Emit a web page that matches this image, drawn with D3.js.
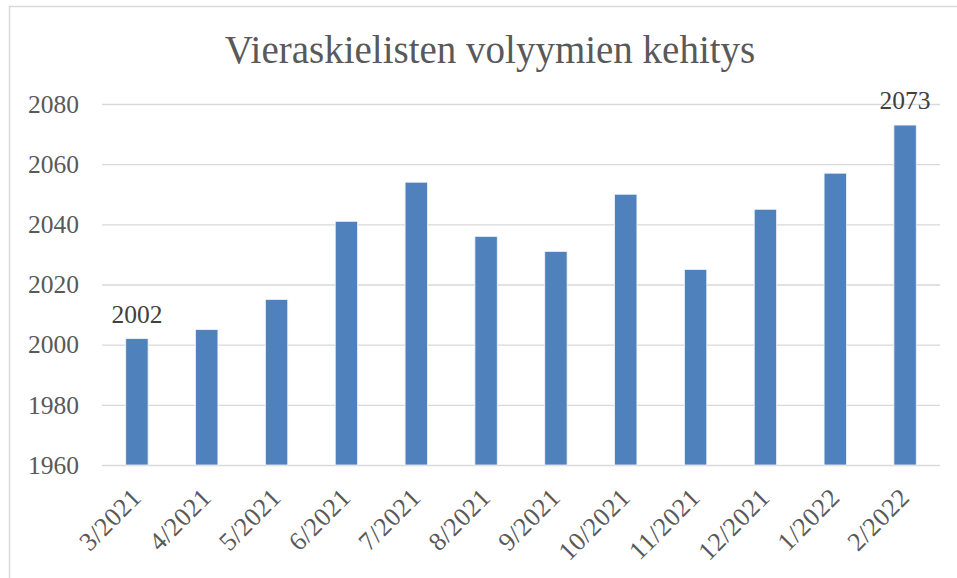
<!DOCTYPE html>
<html>
<head>
<meta charset="utf-8">
<script src="https://cdn.jsdelivr.net/npm/d3@7"></script>
<style>
  html, body { margin: 0; padding: 0; background: #fff; }
  svg { display: block; }
</style>
</head>
<body>
<svg id="chart" width="957" height="578"></svg>
<script>
const months = ["3/2021", "4/2021", "5/2021", "6/2021", "7/2021", "8/2021",
                "9/2021", "10/2021", "11/2021", "12/2021", "1/2022", "2/2022"];
const volumes = [2002, 2005, 2015, 2041, 2054, 2036, 2031, 2050, 2025, 2045, 2057, 2073];
const yTicks = [1960, 1980, 2000, 2020, 2040, 2060, 2080];
const labelledMonths = ["3/2021", "2/2022"];
const titleText = "Vieraskielisten volyymien kehitys";

const svg = d3.select("#chart");
const font = "'Liberation Serif', 'DejaVu Serif', serif";
const textColor = "#595959";

// outer chart frame
svg.append("rect")
  .attr("x", 9.5).attr("y", 6.5)
  .attr("width", 960).attr("height", 600)
  .attr("fill", "#fff")
  .attr("stroke", "#d9d9d9")
  .attr("stroke-width", 1.5);

const plot = { left: 102, right: 940, top: 104, bottom: 465 };

const x = d3.scaleBand()
  .domain(months)
  .range([plot.left, plot.right])
  .paddingInner(0.68)
  .paddingOuter(0.34);

const y = d3.scaleLinear()
  .domain([1960, 2080])
  .range([plot.bottom, plot.top]);

// horizontal gridlines and value labels
const yAxis = d3.axisLeft(y)
  .tickValues(yTicks)
  .tickFormat(d3.format("d"))
  .tickSize(-(plot.right - plot.left))
  .tickPadding(23);

const gy = svg.append("g")
  .attr("transform", `translate(${plot.left},0)`)
  .call(yAxis);
gy.select(".domain").remove();
gy.selectAll(".tick line")
  .attr("stroke", "#d9d9d9")
  .attr("stroke-width", 1.3);
gy.selectAll(".tick text")
  .attr("fill", textColor)
  .style("font-family", font)
  .style("font-size", "25.5px");

// bars
svg.append("g")
  .selectAll("rect")
  .data(months.map((m, i) => ({ month: m, value: volumes[i] })))
  .join("rect")
  .attr("x", d => x(d.month))
  .attr("y", d => y(d.value))
  .attr("width", x.bandwidth())
  .attr("height", d => y(1960) - y(d.value))
  .attr("fill", "#4f81bd")
  .attr("stroke", "#eef3f9")
  .attr("stroke-width", 0.8);

// category axis with rotated labels
const xAxis = d3.axisBottom(x).tickSize(0).tickPadding(0);
const gx = svg.append("g")
  .attr("transform", `translate(0,${plot.bottom})`)
  .call(xAxis);
gx.select(".domain").remove();
gx.selectAll(".tick text")
  .attr("fill", textColor)
  .style("font-family", font)
  .style("font-size", "26px")
  .attr("text-anchor", "end")
  .attr("dy", null)
  .attr("y", null)
  .attr("letter-spacing", "0.5px")
  .attr("transform", "translate(6,34) rotate(-45)");

// data labels for first and last month
svg.append("g")
  .selectAll("text")
  .data(months.map((m, i) => ({ month: m, value: volumes[i] }))
    .filter(d => labelledMonths.includes(d.month)))
  .join("text")
  .attr("x", d => x(d.month) + x.bandwidth() / 2)
  .attr("y", d => y(d.value) - 16)
  .attr("text-anchor", "middle")
  .attr("fill", "#404040")
  .style("font-family", font)
  .style("font-size", "25.5px")
  .text(d => d.value);

// title
svg.append("text")
  .attr("x", 490)
  .attr("y", 63)
  .attr("text-anchor", "middle")
  .attr("fill", textColor)
  .style("font-family", font)
  .style("font-size", "39px")
  .text(titleText);
</script>
</body>
</html>
